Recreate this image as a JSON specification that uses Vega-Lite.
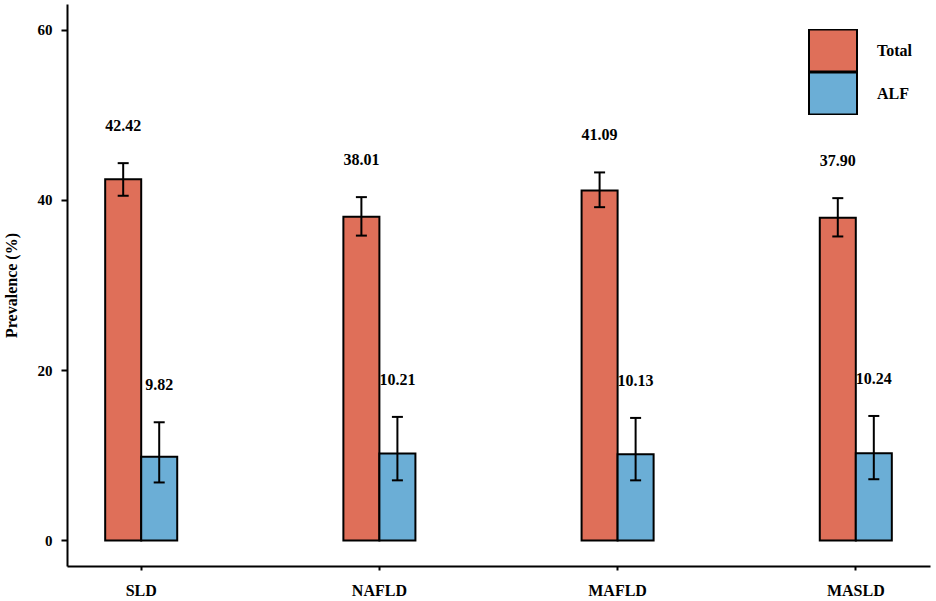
{
  "$schema": "https://vega.github.io/schema/vega-lite/v6.json",
  "autosize": "none",
  "padding": {"left": 67, "top": 4, "right": 6, "bottom": 35},
  "width": 863,
  "height": 562,
  "background": "white",
  "data": {
    "values": [
      {"Type": "SLD", "Group": "Total", "Value": 42.42, "Lower": 40.48, "Upper": 44.31},
      {"Type": "SLD", "Group": "ALF", "Value": 9.82, "Lower": 6.81, "Upper": 13.88},
      {"Type": "NAFLD", "Group": "Total", "Value": 38.01, "Lower": 35.8, "Upper": 40.32},
      {"Type": "NAFLD", "Group": "ALF", "Value": 10.21, "Lower": 7.06, "Upper": 14.51},
      {"Type": "MAFLD", "Group": "Total", "Value": 41.09, "Lower": 39.14, "Upper": 43.22},
      {"Type": "MAFLD", "Group": "ALF", "Value": 10.13, "Lower": 7.06, "Upper": 14.39},
      {"Type": "MASLD", "Group": "Total", "Value": 37.90, "Lower": 35.7, "Upper": 40.2},
      {"Type": "MASLD", "Group": "ALF", "Value": 10.24, "Lower": 7.19, "Upper": 14.62}
    ]
  },
  "encoding": {
    "x": {
      "field": "Type",
      "type": "nominal",
      "sort": ["SLD", "NAFLD", "MAFLD", "MASLD"],
      "scale": {"paddingInner": 0.6976, "paddingOuter": 0.1603},
      "axis": {"title": null, "labelAngle": 0, "tickSize": 4, "labelPadding": 12, "labelFontSize": 16}
    },
    "xOffset": {
      "field": "Group",
      "type": "nominal",
      "sort": ["Total", "ALF"],
      "scale": {"paddingInner": 0, "paddingOuter": 0}
    }
  },
  "layer": [
    {
      "mark": {"type": "bar", "stroke": "black", "strokeWidth": 2},
      "encoding": {
        "y": {
          "field": "Value",
          "type": "quantitative",
          "scale": {"domain": [-3, 63], "nice": false, "zero": false},
          "axis": {
            "title": "Prevalence (%)",
            "values": [0, 20, 40, 60],
            "tickSize": 6,
            "labelPadding": 9,
            "labelFontSize": 15,
            "titleFontSize": 16,
            "titlePadding": 18
          }
        },
        "color": {
          "field": "Group",
          "type": "nominal",
          "scale": {"domain": ["Total", "ALF"], "range": ["#DF6F59", "#6BAED6"]},
          "legend": {
            "orient": "none",
            "legendX": 741,
            "legendY": 25,
            "title": null
          }
        }
      }
    },
    {
      "mark": {"type": "rule", "color": "black", "strokeWidth": 2},
      "encoding": {
        "y": {"field": "Lower", "type": "quantitative"},
        "y2": {"field": "Upper"}
      }
    },
    {
      "mark": {"type": "tick", "color": "black", "size": 11, "thickness": 2, "orient": "horizontal", "opacity": 1},
      "encoding": {
        "y": {"field": "Upper", "type": "quantitative"}
      }
    },
    {
      "mark": {"type": "tick", "color": "black", "size": 11, "thickness": 2, "orient": "horizontal", "opacity": 1},
      "encoding": {
        "y": {"field": "Lower", "type": "quantitative"}
      }
    },
    {
      "mark": {
        "type": "text",
        "dy": -37,
        "baseline": "middle",
        "font": "Liberation Serif",
        "fontWeight": "bold",
        "fontSize": 16,
        "color": "black"
      },
      "encoding": {
        "y": {"field": "Upper", "type": "quantitative"},
        "text": {"field": "Value", "type": "quantitative", "format": ".2f"}
      }
    }
  ],
  "config": {
    "view": {"stroke": null},
    "axis": {
      "grid": false,
      "domainColor": "black",
      "domainWidth": 2,
      "tickColor": "black",
      "tickWidth": 2,
      "labelFont": "Liberation Serif",
      "labelFontWeight": "bold",
      "labelColor": "black",
      "titleFont": "Liberation Serif",
      "titleFontWeight": "bold",
      "titleColor": "black"
    },
    "legend": {
      "symbolType": "M-1,-0.875H1V0.875H-1Z",
      "symbolSize": 2304,
      "symbolStrokeColor": "black",
      "symbolStrokeWidth": 2,
      "symbolOpacity": 1,
      "labelFont": "Liberation Serif",
      "labelFontWeight": "bold",
      "labelFontSize": 16,
      "labelColor": "black",
      "labelOffset": 19,
      "rowPadding": 0,
      "clipHeight": 43,
      "padding": 0
    }
  }
}
